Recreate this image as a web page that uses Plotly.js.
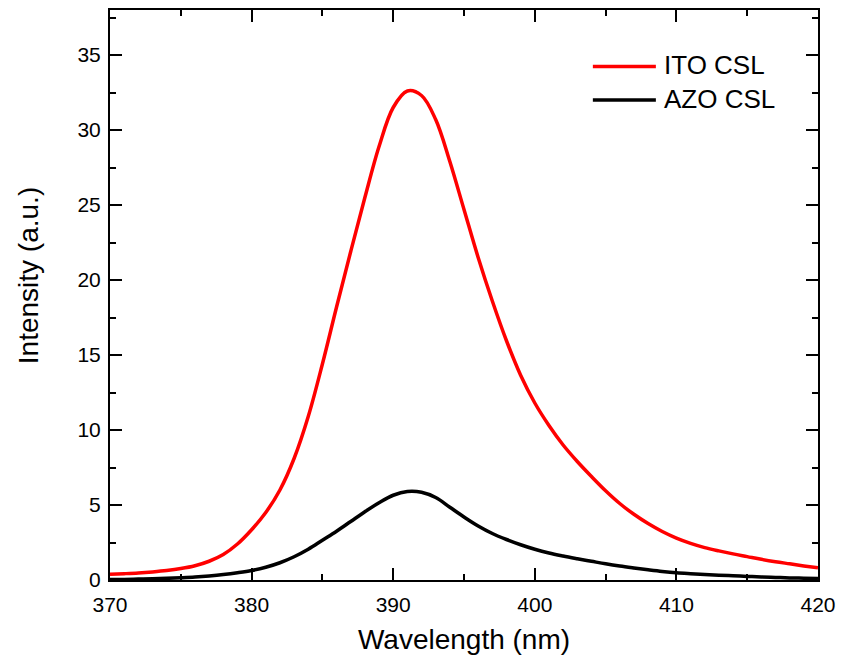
<!DOCTYPE html>
<html>
<head>
<meta charset="utf-8">
<script src="https://cdn.plot.ly/plotly-3.0.1.min.js"></script>
<style>html,body{margin:0;padding:0;background:#fff;}#chart{width:842px;height:667px;}</style>
</head>
<body>
<div id="chart"></div>
<script>
// Wavelength (nm)
const wavelength = [370,371,372,373,374,375,376,377,378,379,380,381,382,383,384,385,386,387,388,389,390,391,392,393,394,395,396,397,398,399,400,401,402,403,404,405,406,407,408,409,410,411,412,413,414,415,416,417,418,419,420];
// ITO CSL intensity (a.u.)
const itoCSL = [0.38,0.42,0.47,0.54,0.63,0.76,0.95,1.25,1.70,2.40,3.35,4.50,6.00,8.10,10.9,14.4,18.2,21.9,25.5,28.9,31.5,32.6,32.3,30.7,27.9,24.7,21.5,18.6,15.95,13.65,11.8,10.3,9.0,7.9,6.9,5.95,5.1,4.38,3.76,3.23,2.79,2.44,2.16,1.94,1.74,1.56,1.38,1.22,1.08,0.94,0.81];
// AZO CSL intensity (a.u.)
const azoCSL = [0.03,0.04,0.06,0.08,0.11,0.15,0.20,0.27,0.36,0.48,0.63,0.85,1.15,1.55,2.05,2.65,3.25,3.90,4.55,5.15,5.65,5.90,5.85,5.50,4.85,4.20,3.60,3.10,2.70,2.35,2.05,1.80,1.60,1.42,1.25,1.08,0.93,0.80,0.68,0.57,0.48,0.42,0.37,0.32,0.28,0.24,0.20,0.17,0.14,0.12,0.10];
const seriesNames = ["ITO CSL", "AZO CSL"];
const seriesColors = ["#ff0000", "#000000"];
const xTicks = [370,380,390,400,410,420];
const yTicks = [0,5,10,15,20,25,30,35];

const font = "Arial, 'Liberation Sans', sans-serif";

const traces = [
  {x: wavelength, y: itoCSL, name: seriesNames[0], mode: "lines", line: {color: seriesColors[0], width: 3.5, shape: "spline", smoothing: 1}, showlegend: false},
  {x: wavelength, y: azoCSL, name: seriesNames[1], mode: "lines", line: {color: seriesColors[1], width: 3.5, shape: "spline", smoothing: 1}, showlegend: false}
];

const axisCommon = {
  showline: true, linecolor: "#000", linewidth: 2, mirror: "ticks",
  ticks: "inside", ticklen: 12, tickwidth: 2, tickcolor: "#000",
  showgrid: false, zeroline: false,
  tickfont: {family: font, size: 21, color: "#000"}
};

const layout = {
  width: 842, height: 667,
  margin: {l: 110, r: 24, t: 10, b: 87},
  paper_bgcolor: "#fff", plot_bgcolor: "#fff",
  xaxis: Object.assign({}, axisCommon, {
    range: [370, 420], tickvals: xTicks, ticktext: xTicks.map(String),
    ticklabelstandoff: 5,
    minor: {ticks: "inside", ticklen: 6, tickwidth: 2, tickcolor: "#000", dtick: 5, showgrid: false},
    title: {text: "Wavelength (nm)", font: {family: font, size: 28, color: "#000"}, standoff: 14}
  }),
  yaxis: Object.assign({}, axisCommon, {
    range: [0, 38], tickvals: yTicks, ticktext: yTicks.map(String),
    ticklabelstandoff: 3,
    minor: {ticks: "inside", ticklen: 6, tickwidth: 2, tickcolor: "#000", dtick: 2.5, showgrid: false}
  }),
  shapes: [
    {type: "line", xref: "paper", yref: "paper", x0: 0.682, x1: 0.771, y0: 0.901, y1: 0.901, line: {color: seriesColors[0], width: 3.5}},
    {type: "line", xref: "paper", yref: "paper", x0: 0.682, x1: 0.771, y0: 0.842, y1: 0.842, line: {color: seriesColors[1], width: 3.5}}
  ],
  annotations: [
    {xref: "paper", yref: "paper", x: 0.779, y: 0.903, xanchor: "left", yanchor: "middle", showarrow: false, text: seriesNames[0], font: {family: font, size: 26, color: "#000"}},
    {xref: "paper", yref: "paper", x: 0.779, y: 0.844, xanchor: "left", yanchor: "middle", showarrow: false, text: seriesNames[1], font: {family: font, size: 26, color: "#000"}},
    {xref: "paper", yref: "paper", x: -0.1158, y: 0.533, xanchor: "center", yanchor: "middle", textangle: -90, showarrow: false, text: "Intensity (a.u.)", font: {family: font, size: 28, color: "#000"}}
  ]
};

Plotly.newPlot("chart", traces, layout, {displayModeBar: false, staticPlot: true});
</script>
</body>
</html>
